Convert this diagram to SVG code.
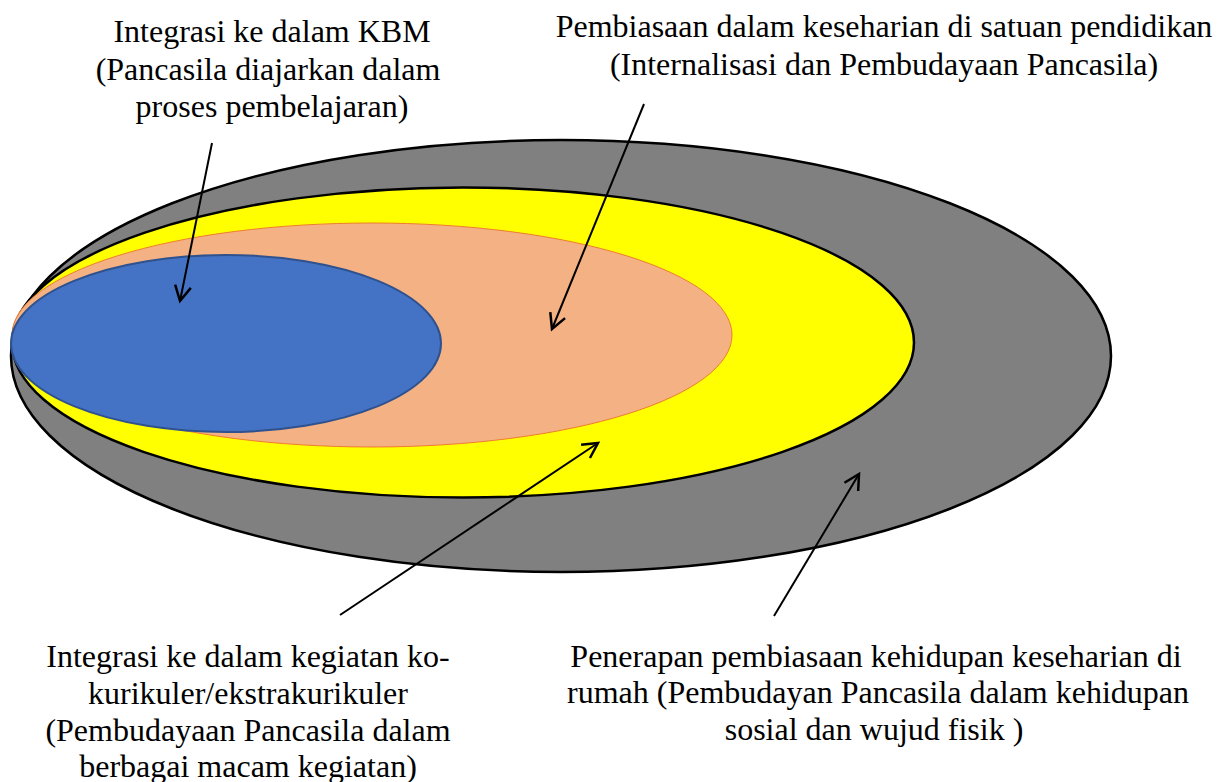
<svg xmlns="http://www.w3.org/2000/svg" width="1232" height="782" viewBox="0 0 1232 782">
<style>
text{font-family:"Liberation Serif","Times New Roman",serif;font-size:32px;fill:#000;text-anchor:middle}
.c{stroke:#000;stroke-width:2;fill:none;marker-end:url(#ah)}
</style>
<defs>
<marker id="ah" markerUnits="userSpaceOnUse" markerWidth="30" markerHeight="30" refX="0" refY="0" viewBox="-20 -15 30 30" orient="auto" overflow="visible">
<path d="M-15,-8 L0,0 L-15,8" fill="none" stroke="#000" stroke-width="2.5"/>
</marker>
</defs>
<rect width="1232" height="782" fill="#fff"/>
<g id="outer"><ellipse cx="561" cy="356" rx="550" ry="216" fill="#808080" stroke="#000" stroke-width="2.5"/></g>
<g id="yellow"><ellipse cx="463" cy="342.5" rx="451" ry="155" fill="#ffff00" stroke="#000" stroke-width="2.5"/></g>
<g id="peach"><ellipse cx="372" cy="335" rx="360" ry="112" fill="#f4b183" stroke="#ed7d31" stroke-width="1"/></g>
<g id="blue"><ellipse cx="226" cy="343.5" rx="215" ry="88.5" fill="#4472c4" stroke="#2f528f" stroke-width="2"/></g>
<g id="connectors">
<line class="c" x1="212" y1="143" x2="180" y2="301"/>
<line class="c" x1="644" y1="104" x2="552" y2="329"/>
<line class="c" x1="340" y1="615" x2="598" y2="443"/>
<line class="c" x1="774" y1="616" x2="859" y2="474"/>
</g>
<g id="label-kbm">
<text x="272" y="42">Integrasi ke dalam KBM</text>
<text x="268" y="80">(Pancasila diajarkan dalam</text>
<text x="272" y="117">proses pembelajaran)</text>
</g>
<g id="label-pembiasaan">
<text x="884" y="37">Pembiasaan dalam keseharian di satuan pendidikan</text>
<text x="884" y="75">(Internalisasi dan Pembudayaan Pancasila)</text>
</g>
<g id="label-kokurikuler">
<text x="248" y="667">Integrasi ke dalam kegiatan ko-</text>
<text x="248" y="704">kurikuler/ekstrakurikuler</text>
<text x="248" y="741">(Pembudayaan Pancasila dalam</text>
<text x="248" y="777">berbagai macam kegiatan)</text>
</g>
<g id="label-rumah">
<text x="876" y="667">Penerapan pembiasaan kehidupan keseharian di</text>
<text x="878" y="703">rumah (Pembudayan Pancasila dalam kehidupan</text>
<text x="874" y="740">sosial dan wujud fisik )</text>
</g>
</svg>
